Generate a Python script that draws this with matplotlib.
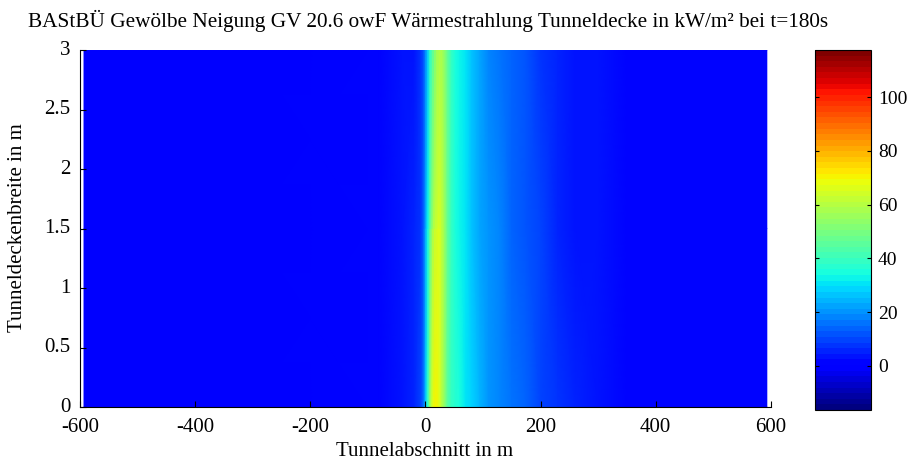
import matplotlib
matplotlib.use('Agg')
import matplotlib.pyplot as plt
import numpy as np

# ---- data (kW/m² radiation at tunnel ceiling) ----
x_nodes = [-593, -300, -100, -80, -40, -20, -8, -3, 0, 4, 8, 12, 16, 20, 24, 28,
           33, 38, 45, 52, 60, 70, 80, 95, 110, 130, 150, 175, 200, 230, 260,
           300, 350, 450, 593]
y_nodes = [0.0, 1.5, 3.0]
row_bottom = [0.3, 0.3, 0.5, 1.5, 2.5, 5, 9, 16, 26, 40, 55, 66, 70, 70, 67, 61,
              53, 46, 40, 36, 34, 31, 28, 24, 21, 19, 16, 13, 10, 7, 5,
              3.5, 2.2, 1.3, 1.0]
row_mid = [0.3, 0.3, 0.5, 1.5, 2.5, 5, 8, 14, 22, 33, 45, 56, 62, 65, 66, 63,
           55, 47, 40, 35, 33, 31, 27, 23, 20, 18, 14, 12, 9, 6, 4.5,
           3, 2, 1.2, 1.0]
row_top = [0.3, 0.3, 0.5, 1.5, 2.5, 4.5, 7, 12, 18, 27, 36, 44, 50, 55, 58, 58,
           54, 47, 40, 35, 32, 30, 26, 22, 19, 17, 13, 11, 8, 5.5, 4,
           2.8, 1.9, 1.2, 1.0]
x_ticks = [-600, -400, -200, 0, 200, 400, 600]
y_ticks = [0, 0.5, 1, 1.5, 2, 2.5, 3]
y_tick_labels = ['0', '0.5', '1', '1.5', '2', '2.5', '3']
cbar_ticks = [0, 20, 40, 60, 80, 100]
c_min, c_max = -16.4, 117.6

title = 'BAStBÜ Gewölbe Neigung GV 20.6 owF Wärmestrahlung Tunneldecke in kW/m² bei t=180s'
xlabel = 'Tunnelabschnitt in m'
ylabel = 'Tunneldeckenbreite in m'

plt.rcParams['font.family'] = ['Liberation Serif', 'DejaVu Serif']
fs = 15

fig = plt.figure(figsize=(9.09, 4.61), dpi=100)
ax = fig.add_axes([0.088, 0.1171, 0.760, 0.7744])
cax = fig.add_axes([0.8966, 0.1106, 0.0616, 0.781])

X, Y = np.meshgrid(np.array(x_nodes, float), np.array(y_nodes, float))
Z = np.array([row_bottom, row_mid, row_top], float)
cmap = plt.get_cmap('jet', 64)
mesh = ax.pcolormesh(X, Y, Z, shading='gouraud', cmap=cmap, vmin=c_min, vmax=c_max)

ax.set_xlim(-600, 600)
ax.set_ylim(0, 3)
ax.spines['top'].set_visible(False)
ax.spines['right'].set_visible(False)
ax.set_xticks(x_ticks)
ax.set_xticklabels([str(t) for t in x_ticks])
ax.set_yticks(y_ticks)
ax.set_yticklabels(y_tick_labels, va='center')
ax.tick_params(direction='in', length=4, labelsize=fs)
ax.tick_params(axis='x', pad=8)
ax.tick_params(axis='y', pad=7)
ax.set_axisbelow(False)

cb = fig.colorbar(mesh, cax=cax, ticks=cbar_ticks)
cb.outline.set_linewidth(0.8)
cax.tick_params(direction='in', length=3, left=True, right=True, labelsize=14, pad=5)
cax.set_yticklabels([str(t) for t in cbar_ticks])

fig.text(428 / 909, 1 - 21 / 461, title, ha='center', va='center', fontsize=15.3)
fig.text(425 / 909, 1 - 451 / 461, xlabel, ha='center', va='center', fontsize=fs)
fig.text(18 / 909, 1 - 228 / 461, ylabel, ha='center', va='center', fontsize=fs, rotation=90)

fig.savefig('out.png', dpi=100)
